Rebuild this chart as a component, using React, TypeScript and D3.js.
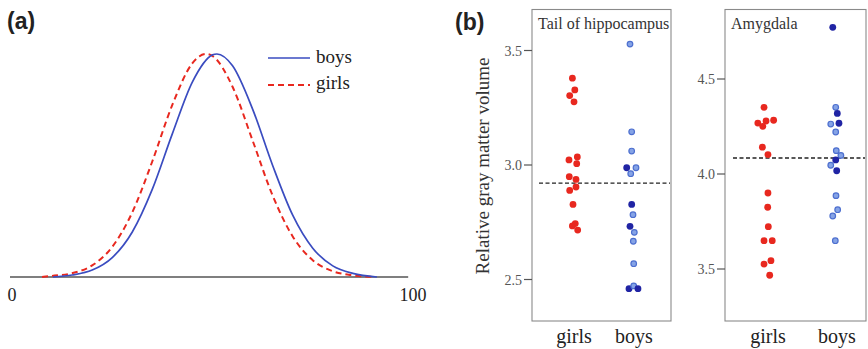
import React from 'react';
import * as d3 from 'd3';

// panel (a): distribution curves (x in 0..100, height relative to peak)
const boysX = [10.2, 15, 20, 25, 30, 35, 40, 45, 50, 51.1, 55, 60, 65, 70, 75, 80, 85, 91];
const boysY = [0, 0.009, 0.031, 0.087, 0.202, 0.394, 0.643, 0.875, 0.996, 1, 0.947, 0.753, 0.5, 0.277, 0.129, 0.05, 0.016, 0];
const girlsX = [7.5, 10, 15, 20, 25, 30, 35, 40, 45, 48.4, 50, 55, 60, 65, 70, 75, 80, 85, 90.5];
const girlsY = [0, 0.005, 0.017, 0.052, 0.135, 0.29, 0.519, 0.773, 0.959, 1, 0.991, 0.853, 0.612, 0.365, 0.182, 0.075, 0.026, 0.0075, 0];

// panel (b)
const groups = ['girls', 'boys'];

const tailGirls = [3.379, 3.328, 3.303, 3.276, 3.022, 3.035, 3.006, 2.949, 2.937, 2.889, 2.904, 2.828, 2.734, 2.744, 2.716];
const tailGirlsJit = [-0.01, 0.03, -0.055, 0.017, -0.067, 0.072, 0.062, -0.062, 0.05, -0.055, 0.05, 0, -0.01, 0.038, 0.078];
const tailBoys = [3.528, 3.145, 3.061, 2.988, 2.988, 2.962, 2.828, 2.783, 2.732, 2.706, 2.667, 2.569, 2.46, 2.472, 2.46];
const tailBoysJit = [-0.05, -0.022, -0.022, -0.105, 0.05, -0.038, -0.022, 0, -0.05, 0.022, 0.005, 0.012, -0.067, 0.012, 0.083];
const tailBoysDark = [0, 0, 0, 1, 0, 0, 1, 0, 1, 0, 0, 0, 1, 0, 1];
const tailMean = 2.921;

const amyGirls = [4.351, 4.268, 4.279, 4.251, 4.283, 4.141, 4.102, 3.9, 3.825, 3.723, 3.649, 3.649, 3.544, 3.526, 3.467];
const amyGirlsJit = [-0.043, -0.133, -0.014, -0.061, 0.096, -0.067, 0.014, 0.014, 0.01, 0.019, -0.043, 0.076, 0.057, -0.043, 0.039];
const amyBoys = [4.772, 4.351, 4.319, 4.263, 4.267, 4.221, 4.123, 4.098, 4.074, 4.046, 4.017, 3.886, 3.812, 3.779, 3.649];
const amyBoysJit = [-0.047, -0.004, 0.019, -0.076, 0.043, -0.004, 0.004, 0.071, -0.004, -0.076, 0.01, 0, 0.024, -0.047, -0.01];
const amyBoysDark = [1, 0, 1, 0, 1, 0, 0, 0, 1, 0, 1, 0, 0, 0, 0];
const amyMean = 4.084;

const tailTicks = [2.5, 3.0, 3.5];
const amyTicks = [3.5, 4.0, 4.5];

const serif = '"Liberation Serif", "Times New Roman", serif';
const RED = '#e8281f';
const DARK = '#2024a4';
const LIGHT = '#85a3e6';
const LIGHT_STROKE = '#4d6fcf';

type PanelProps = {
  left: number; right: number; top: number; bottom: number;
  domain: [number, number]; ticks: number[];
  girlsX0: number; boysX0: number;
  title: string;
  girls: number[]; girlsJit: number[];
  boys: number[]; boysJit: number[]; boysDark: number[];
  mean: number; meanX0: number; meanX1: number;
};

const DotPanel = (p: PanelProps) => {
  const y = d3.scaleLinear().domain(p.domain).range([p.bottom, p.top]);
  const x = d3.scalePoint<string>().domain(groups).range([p.girlsX0, p.boysX0]);
  const step = x.step();
  return (
    <g>
      <rect x={p.left} y={p.top} width={p.right - p.left} height={p.bottom - p.top}
        fill="none" stroke="#8a8a8a" strokeWidth={1.1} />
      <text x={p.left + 6} y={p.top + 19} fontFamily={serif} fontSize={16} fill="#333">{p.title}</text>
      {p.ticks.map(t => (
        <g key={t}>
          <line x1={p.left - 8} x2={p.left} y1={y(t)} y2={y(t)} stroke="#555" strokeWidth={1.2} />
          <text x={p.left - 10} y={y(t) + 5} textAnchor="end" fontFamily={serif} fontSize={14} fill="#555">
            {d3.format('.1f')(t)}
          </text>
        </g>
      ))}
      <line x1={p.meanX0} x2={p.meanX1} y1={y(p.mean)} y2={y(p.mean)}
        stroke="#222" strokeWidth={1.4} strokeDasharray="4,2.5" />
      {p.girls.map((v, i) => (
        <circle key={'g' + i} cx={x('girls')! + p.girlsJit[i] * step} cy={y(v)} r={3.4} fill={RED} />
      ))}
      {p.boys.map((v, i) => (
        p.boysDark[i]
          ? <circle key={'b' + i} cx={x('boys')! + p.boysJit[i] * step} cy={y(v)} r={3.4} fill={DARK} />
          : <circle key={'b' + i} cx={x('boys')! + p.boysJit[i] * step} cy={y(v)} r={2.8}
              fill={LIGHT} stroke={LIGHT_STROKE} strokeWidth={1.2} />
      ))}
      {groups.map(g => (
        <text key={g} x={x(g)! + 1} y={343} textAnchor="middle" fontFamily={serif} fontSize={20} fill="#222">{g}</text>
      ))}
    </g>
  );
};

const App = () => {
  const W = 868, H = 349;
  const xa = d3.scaleLinear().domain([0, 100]).range([12, 413]);
  const ya = d3.scaleLinear().domain([0, 1]).range([277, 54]);
  const line = d3.line<[number, number]>().x(d => xa(d[0])).y(d => ya(d[1])).curve(d3.curveMonotoneX);
  const boysPath = line(boysX.map((v, i) => [v, boysY[i]]));
  const girlsPath = line(girlsX.map((v, i) => [v, girlsY[i]]));

  return (
    <svg width={W} height={H} style={{ position: 'absolute', left: 0, top: 0, background: '#fff' }}>
      {/* panel (a) */}
      <text x={7} y={29} fontFamily='"Liberation Sans", Arial, sans-serif' fontWeight="bold" fontSize={23} fill="#222">(a)</text>
      <line x1={xa(-0.5)} x2={xa(98.8)} y1={ya(0)} y2={ya(0)} stroke="#555" strokeWidth={1.6} />
      <path d={girlsPath || ''} fill="none" stroke={RED} strokeWidth={2} strokeDasharray="6,4" />
      <path d={boysPath || ''} fill="none" stroke="#3a4cc0" strokeWidth={1.7} />
      <text x={xa(0)} y={301} textAnchor="middle" fontFamily={serif} fontSize={18} fill="#222">0</text>
      <text x={xa(100)} y={301} textAnchor="middle" fontFamily={serif} fontSize={18} fill="#222">100</text>
      <line x1={268} x2={310} y1={58} y2={58} stroke="#3a4cc0" strokeWidth={1.7} />
      <text x={316} y={63} fontFamily={serif} fontSize={19} fill="#222">boys</text>
      <line x1={268} x2={310} y1={85} y2={85} stroke={RED} strokeWidth={2} strokeDasharray="6,4" />
      <text x={316} y={89} fontFamily={serif} fontSize={19} fill="#222">girls</text>

      {/* panel (b) */}
      <text x={455} y={30} fontFamily='"Liberation Sans", Arial, sans-serif' fontWeight="bold" fontSize={23} fill="#222">(b)</text>
      <text transform="translate(489,166) rotate(-90)" textAnchor="middle" fontFamily={serif} fontSize={19} fill="#333">
        Relative gray matter volume
      </text>
      <DotPanel left={532} right={671} top={9.5} bottom={321}
        domain={[3.0 - (321 - 165) / 229, 3.0 + (165 - 9.5) / 229]} ticks={tailTicks}
        girlsX0={573} boysX0={633} title="Tail of hippocampus"
        girls={tailGirls} girlsJit={tailGirlsJit} boys={tailBoys} boysJit={tailBoysJit} boysDark={tailBoysDark}
        mean={tailMean} meanX0={539} meanX1={670} />
      <DotPanel left={725} right={866} top={9.5} bottom={321}
        domain={[4.0 - (321 - 174) / 190, 4.0 + (174 - 9.5) / 190]} ticks={amyTicks}
        girlsX0={767} boysX0={836} title="Amygdala"
        girls={amyGirls} girlsJit={amyGirlsJit} boys={amyBoys} boysJit={amyBoysJit} boysDark={amyBoysDark}
        mean={amyMean} meanX0={733} meanX1={865} />
    </svg>
  );
};

export default App;
